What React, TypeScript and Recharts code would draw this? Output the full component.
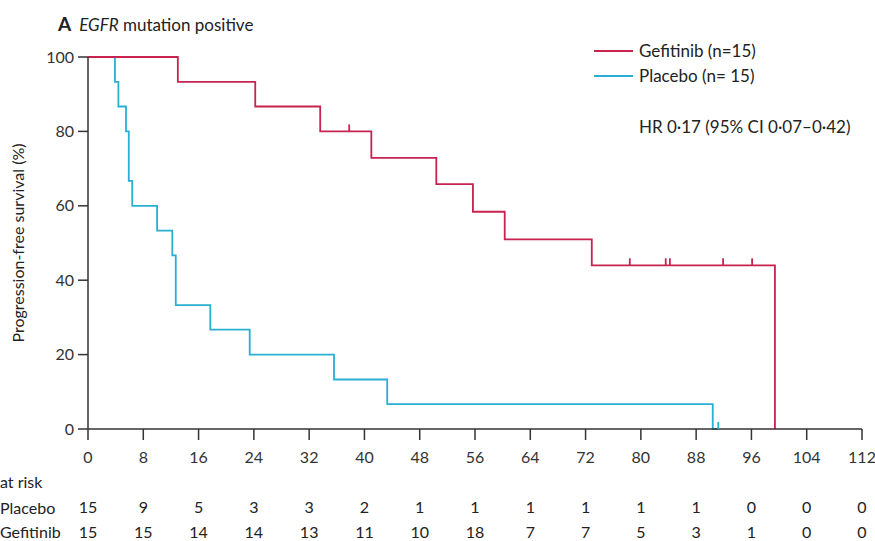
import React from 'react'
import {
  LineChart,
  Line,
  XAxis,
  YAxis,
  Legend,
} from 'recharts'

// follow-up time (months) and progression-free survival (%) at each step
const gefitinibTimes = [0, 13, 24.2, 33.6, 37.8, 41, 50.4, 55.7, 60.3, 72.9, 78.4, 83.6, 84.2, 91.9, 96.1, 99.4]
const gefitinibSurvival = [100, 93.3, 86.7, 80, 80, 72.9, 65.8, 58.4, 51, 44, 44, 44, 44, 44, 44, 0]
const gefitinibCensored = [0, 0, 0, 0, 1, 0, 0, 0, 0, 0, 1, 1, 1, 1, 1, 0]

const placeboTimes = [0, 3.9, 4.4, 5.5, 5.9, 6.4, 10, 12.2, 12.7, 17.7, 23.4, 35.6, 43.3, 90.4, 91.2]
const placeboSurvival = [100, 93.3, 86.7, 80, 66.7, 60, 53.3, 46.7, 33.3, 26.7, 20, 13.3, 6.7, 0, 0]
const placeboCensored = [0, 0, 0, 0, 0, 0, 0, 0, 0, 0, 0, 0, 0, 0, 1]

const monthTicks = [0, 8, 16, 24, 32, 40, 48, 56, 64, 72, 80, 88, 96, 104, 112]
const survivalTicks = [0, 20, 40, 60, 80, 100]
const placeboAtRisk = [15, 9, 5, 3, 3, 2, 1, 1, 1, 1, 1, 1, 0, 0, 0]
const gefitinibAtRisk = [15, 15, 14, 14, 13, 11, 10, 18, 7, 7, 5, 3, 1, 0, 0]

const RED = '#c8234f'
const BLUE = '#2aafd4'
const AXIS = '#333'
const FONT = "Lato, 'Liberation Sans', sans-serif"

const legendItems = [
  { label: 'Gefitinib (n=15)', color: RED },
  { label: 'Placebo (n= 15)', color: BLUE },
]

const toRows = (times: number[], surv: number[], cens: number[]) =>
  times.map((t, i) => ({ t, s: surv[i], c: cens[i] }))

const gefitinibData = toRows(gefitinibTimes, gefitinibSurvival, gefitinibCensored)
const placeboData = toRows(placeboTimes, placeboSurvival, placeboCensored)

const censorDot = (color: string) => (props: any) => {
  const { cx, cy, payload, index } = props
  if (!payload || !payload.c) return <g key={`d-${index}`} />
  return (
    <line
      key={`d-${index}`}
      x1={cx}
      x2={cx}
      y1={cy}
      y2={cy - 7}
      stroke={color}
      strokeWidth={1.8}
    />
  )
}

const LegendBox = () => (
  <div style={{ fontFamily: FONT, fontSize: 17, color: '#222' }}>
    {legendItems.map((item) => (
      <div key={item.label} style={{ display: 'flex', alignItems: 'center', height: 25 }}>
        <svg width={45} height={10}>
          <line x1={0} x2={39} y1={5} y2={5} stroke={item.color} strokeWidth={1.8} />
        </svg>
        <span>{item.label}</span>
      </div>
    ))}
  </div>
)

const YLabel = (props: any) => {
  const vb = props.viewBox || {}
  const cy = vb.y + vb.height / 2
  return (
    <text
      x={17}
      y={cy}
      transform={`rotate(-90, 17, ${cy})`}
      textAnchor='middle'
      dominantBaseline='central'
      fill='#222'
      fontSize={16}
    >
      Progression-free survival (%)
    </text>
  )
}

const rowLabel: React.CSSProperties = {
  position: 'absolute',
  left: 0,
  fontSize: 16,
  color: '#222',
  whiteSpace: 'nowrap',
}

export default function App() {
  return (
    <div
      style={{
        position: 'absolute',
        left: 0,
        top: 0,
        width: 875,
        height: 541,
        overflow: 'hidden',
        background: '#fff',
        fontFamily: FONT,
      }}
    >
      <div style={{ position: 'absolute', left: 58, top: 12, fontSize: 17, color: '#222', whiteSpace: 'nowrap' }}>
        <b style={{ fontSize: 19, marginRight: 8 }}>A</b>
        <i>EGFR</i> mutation positive
      </div>

      <LineChart
        width={875}
        height={541}
        margin={{ top: 57, right: 13, left: 0, bottom: 0 }}
      >
        <XAxis
          dataKey='t'
          type='number'
          domain={[0, 112]}
          ticks={monthTicks}
          allowDataOverflow
          height={40}
          tickSize={11}
          tickMargin={12}
          stroke={AXIS}
          strokeWidth={1.5}
          tick={{ fill: '#333', fontSize: 16 }}
        />
        <XAxis
          xAxisId='risk1'
          dataKey='t'
          type='number'
          domain={[0, 112]}
          ticks={monthTicks}
          allowDataOverflow
          height={52}
          axisLine={false}
          tickLine={false}
          tickSize={0}
          tickMargin={33}
          tickFormatter={(v: number) => String(placeboAtRisk[monthTicks.indexOf(v)])}
          tick={{ fill: '#222', fontSize: 16 }}
        />
        <XAxis
          xAxisId='risk2'
          dataKey='t'
          type='number'
          domain={[0, 112]}
          ticks={monthTicks}
          allowDataOverflow
          height={20}
          axisLine={false}
          tickLine={false}
          tickSize={0}
          tickMargin={6}
          tickFormatter={(v: number) => String(gefitinibAtRisk[monthTicks.indexOf(v)])}
          tick={{ fill: '#222', fontSize: 16 }}
        />
        <YAxis
          type='number'
          domain={[0, 100]}
          ticks={survivalTicks}
          width={88}
          tickSize={10}
          tickMargin={4}
          stroke={AXIS}
          strokeWidth={1.5}
          tick={{ fill: '#333', fontSize: 16 }}
          label={<YLabel />}
        />
        <Legend
          layout='vertical'
          align='center'
          verticalAlign='middle'
          wrapperStyle={{ left: 594, top: 38, width: 270 }}
          content={() => <LegendBox />}
        />
        {/* invisible series so the at-risk rows get their own axes */}
        <Line
          xAxisId='risk1'
          data={placeboData}
          dataKey='s'
          stroke='none'
          dot={false}
          activeDot={false}
          legendType='none'
          isAnimationActive={false}
        />
        <Line
          xAxisId='risk2'
          data={gefitinibData}
          dataKey='s'
          stroke='none'
          dot={false}
          activeDot={false}
          legendType='none'
          isAnimationActive={false}
        />
        <Line
          data={placeboData}
          dataKey='s'
          type='stepAfter'
          stroke={BLUE}
          strokeWidth={1.8}
          dot={censorDot(BLUE)}
          activeDot={false}
          isAnimationActive={false}
        />
        <Line
          data={gefitinibData}
          dataKey='s'
          type='stepAfter'
          stroke={RED}
          strokeWidth={1.8}
          dot={censorDot(RED)}
          activeDot={false}
          isAnimationActive={false}
        />
      </LineChart>

      <div style={{ position: 'absolute', left: 639, top: 116, fontSize: 17, color: '#222', whiteSpace: 'nowrap' }}>
        HR 0·17 (95% CI 0·07–0·42)
      </div>

      <div style={{ ...rowLabel, top: 472 }}>at risk</div>
      <div style={{ ...rowLabel, top: 498 }}>Placebo</div>
      <div style={{ ...rowLabel, top: 522 }}>Gefitinib</div>
    </div>
  )
}
